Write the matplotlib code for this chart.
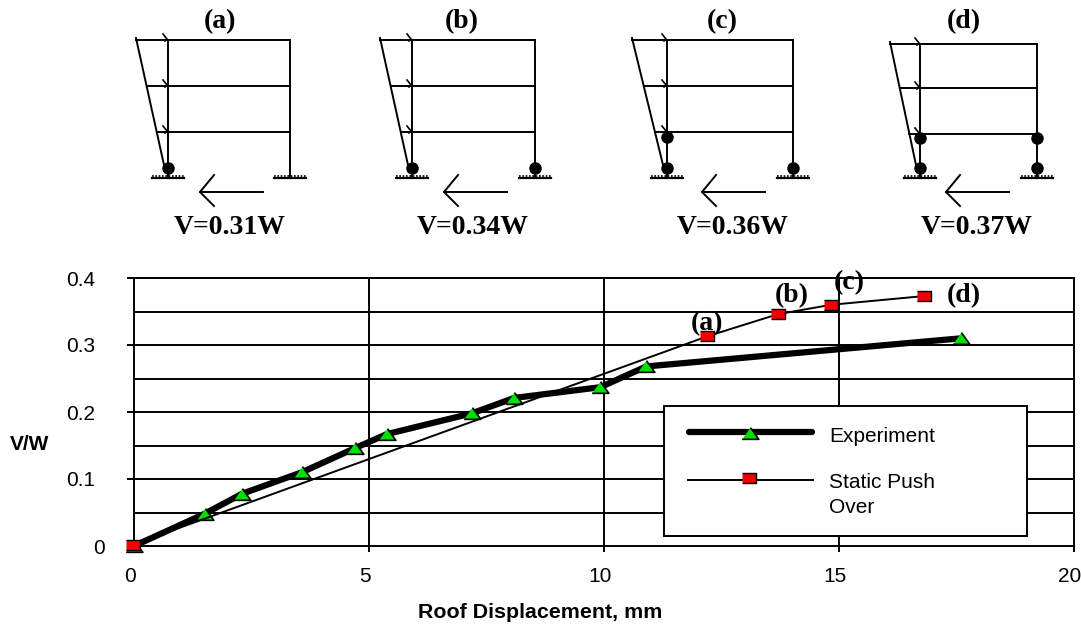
import matplotlib
matplotlib.use('Agg')
import matplotlib.pyplot as plt
from matplotlib.patches import Rectangle
from matplotlib.transforms import ScaledTranslation

plt.rcParams['font.family'] = ['Liberation Sans', 'DejaVu Sans']

# Daten
exp_x = [0.0, 1.5, 2.3, 3.57, 4.7, 5.38, 7.19, 8.09, 9.92, 10.9, 17.6]
exp_y = [0.0, 0.048, 0.078, 0.11, 0.146, 0.167, 0.198, 0.221, 0.237, 0.268, 0.31]
push_x = [-0.02, 12.2, 13.7, 14.83, 16.8]
push_y = [0.002, 0.313, 0.346, 0.36, 0.373]
x_ticks = [0, 5, 10, 15, 20]
y_ticks = [0, 0.1, 0.2, 0.3, 0.4]
y_tick_labels = ['0', '0.1', '0.2', '0.3', '0.4']
y_grid = [0.05, 0.1, 0.15, 0.2, 0.25, 0.3, 0.35, 0.4]

frame_names = ['(a)', '(b)', '(c)', '(d)']
frame_shear = ['V=0.31W', 'V=0.34W', 'V=0.36W', 'V=0.37W']

W, H = 1081, 624
LW = 1.4
TRI = [(-1, -0.7), (1, -0.7), (0, 0.7)]
BOX = [(-1, -0.65), (1, -0.65), (1, 0.65), (-1, 0.65)]
exp_style = dict(color='black', lw=4.5, marker=TRI, ms=12, mfc='#00e000', mec='black', mew=1.2)
push_style = dict(color='black', lw=1.4, marker=BOX, ms=10.5, mfc='#f00000', mec='black', mew=1.0)

fig = plt.figure(figsize=(W / 100, H / 100), dpi=100)

# Hauptdiagramm
ax = fig.add_axes([134 / W, (H - 546) / H, 940 / W, 268 / H])
ax.set_xlim(0, 20)
ax.set_ylim(0, 0.4)
for s in ax.spines:
    ax.spines[s].set_linewidth(LW)
ax.set_xticks(x_ticks)
ax.set_yticks(y_ticks)
ax.set_yticklabels(y_tick_labels)
ax.tick_params(axis='x', length=4, width=LW, labelsize=15, pad=11)
ax.tick_params(axis='y', length=5, width=LW, labelsize=15, pad=23)
for y in y_grid:
    ax.axhline(y, color='black', lw=LW, zorder=1)
for x in x_ticks[1:-1]:
    ax.axvline(x, color='black', lw=LW, zorder=1)

ax.plot(exp_x, exp_y, zorder=3, clip_on=False, **exp_style)
ax.plot(push_x, push_y, zorder=4, clip_on=False, **push_style)

# Tick-Beschriftungen sitzen im Original etwas versetzt
dx = ScaledTranslation(-4 / 100, 0, fig.dpi_scale_trans)
for lab in ax.get_xticklabels():
    lab.set_transform(lab.get_transform() + dx)
zero_lab = ax.get_yticklabels()[0]
zero_lab.set_transform(zero_lab.get_transform() + ScaledTranslation(10 / 100, 0, fig.dpi_scale_trans))

ax.set_xlabel('Roof Displacement, mm', fontsize=15.4, fontweight='bold')
ax.set_ylabel('V/W', fontsize=15, fontweight='bold', rotation=0)
ax.yaxis.set_label_coords(-104 / 940, 0.343)
ax.xaxis.set_label_coords(406 / 940, -57 / 268)

# Rahmenskizzen in Pixelkoordinaten
sk = fig.add_axes([0, 0, 1, 1], facecolor='none')
sk.set_xlim(0, W)
sk.set_ylim(H, 0)
sk.axis('off')

# Legende
sk.add_patch(Rectangle((664, 406), 363, 130, fc='white', ec='black', lw=LW, zorder=5))
sk.plot([689, 812], [432, 432], solid_capstyle='round', zorder=6, **{**exp_style, 'marker': None})
sk.plot([750], [433], zorder=7, **{**exp_style, 'lw': 0})
sk.plot([688, 813], [480, 480], zorder=6, **{**push_style, 'marker': None})
sk.plot([749], [478], zorder=7, **{**push_style, 'lw': 0})
sk.text(829, 436, 'Experiment', fontsize=15, va='center', zorder=7)
sk.text(829, 495, 'Static Push\nOver', fontsize=15, va='center', linespacing=1.4, zorder=7)


def draw_frame(left, right, top, mid, low, load, hinges, arrow_r):
    base = 178
    for y in [top, mid, low]:
        sk.plot([left, right], [y, y], color='black', lw=LW)
    sk.plot([left, left], [top, base], color='black', lw=LW)
    sk.plot([right, right], [top, base], color='black', lw=LW)
    # Lastdreieck
    foot = left - 4
    sk.plot([load, foot], [top - 2, 165], color='black', lw=LW)
    for y in [top, mid, low]:
        start = load + (foot - load) * (y - top + 2) / (165 - top + 2)
        sk.plot([start, left], [y, y], color='black', lw=LW)
        sk.plot([left - 5, left - 1, left - 3], [y - 6, y - 1, y + 1], color='black', lw=1.2)
    # Gelenke
    for hx, hy in hinges:
        sk.plot([hx], [hy], marker='o', ms=8, color='black')
    # Einspannungen
    for gx in [left, right]:
        sk.plot([gx - 16, gx + 16], [base, base], color='black', lw=1.6)
        sk.plot([gx - 16, gx + 16], [base - 2, base - 2], color='black', lw=1.2, ls=(0, (1, 1)))
    # Pfeil
    arrow_l = arrow_r - 63
    sk.plot([arrow_r, arrow_l], [192, 192], color='black', lw=LW)
    sk.plot([arrow_l + 14, arrow_l, arrow_l + 14], [175, 192, 206], color='black', lw=LW)


draw_frame(168, 290, 40, 86, 132, 136, [(168, 168)], 263)
draw_frame(412, 535, 40, 86, 132, 380, [(412, 168), (535, 168)], 507)
draw_frame(667, 793, 40, 86, 132, 632, [(667, 168), (667, 137), (793, 168)], 765)
draw_frame(920, 1037, 44, 88, 134, 890, [(920, 168), (920, 138), (1037, 168), (1037, 138)], 1009)

serif = ['Liberation Serif', 'DejaVu Serif']
for name, x in zip(frame_names, [220, 462, 722, 964]):
    sk.text(x, 22, name, family=serif, fontsize=20, fontweight='bold', ha='center', va='center')
for txt, x in zip(frame_shear, [230, 473, 733, 977]):
    sk.text(x, 227, txt, family=serif, fontsize=20, fontweight='bold', ha='center', va='center')
for name, x, y in zip(frame_names, [707, 792, 849, 964], [324, 296, 283, 296]):
    sk.text(x, y, name, family=serif, fontsize=20, fontweight='bold', ha='center', va='center', zorder=4)

fig.savefig('out.png', dpi=100)
